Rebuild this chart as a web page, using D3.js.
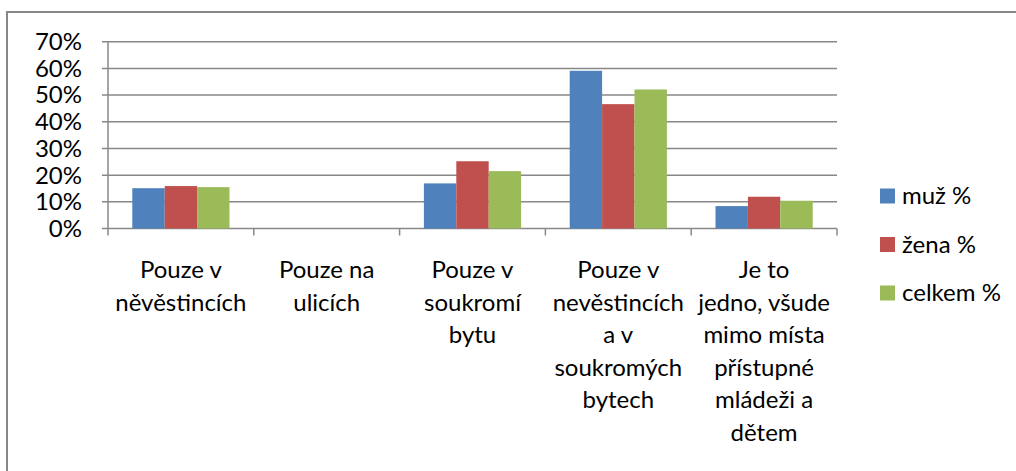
<!DOCTYPE html>
<html><head><meta charset="utf-8">
<script src="https://cdn.jsdelivr.net/npm/d3@7"></script>
<style>
html,body{margin:0;padding:0;background:#fff;}
svg text{font-family:Lato, "Open Sans", sans-serif;fill:#000;}
</style></head>
<body>
<svg id="chart" width="1016" height="471"></svg>
<script>
const categories = [
  ["Pouze v","něvěstincích"],
  ["Pouze na","ulicích"],
  ["Pouze v","soukromí","bytu"],
  ["Pouze v","nevěstincích","a v","soukromých","bytech"],
  ["Je to","jedno, všude","mimo místa","přístupné","mládeži a","dětem"]
];
const seriesNames = ["muž %","žena %","celkem %"];
const muz    = [15.1, 0, 16.9, 59.1, 8.4];
const zena   = [15.9, 0, 25.2, 46.6, 11.9];
const celkem = [15.5, 0, 21.5, 52.1, 10.4];
const yTicks = [0,10,20,30,40,50,60,70];
const colors = ["#4F81BD","#C0504D","#9BBB59"];

const series = [muz, zena, celkem];
const svg = d3.select("#chart");
const fs = 24;

// outer border
svg.append("rect").attr("x",7).attr("y",12).attr("width",1030).attr("height",480)
  .attr("fill","none").attr("stroke","#888").attr("stroke-width",2);

const pLeft=108, pRight=837, pTop=41.7, pBottom=228.5;
const x = d3.scaleBand().domain(d3.range(categories.length)).range([pLeft,pRight]).paddingInner(0).paddingOuter(0);
const y = d3.scaleLinear().domain([0,70]).range([pBottom,pTop]);

// gridlines
svg.append("g").selectAll("line").data(yTicks).join("line")
  .attr("x1",pLeft-6).attr("x2",pRight).attr("y1",d=>y(d)).attr("y2",d=>y(d))
  .attr("stroke","#888").attr("stroke-width",1.5);

// y axis line
svg.append("line").attr("x1",pLeft).attr("x2",pLeft).attr("y1",pTop).attr("y2",pBottom)
  .attr("stroke","#888").attr("stroke-width",1.5);

// y labels
svg.append("g").selectAll("text").data(yTicks).join("text")
  .attr("x",82).attr("y",d=>y(d)).attr("dy","0.35em").attr("text-anchor","end")
  .attr("font-size",fs).text(d=>d+"%");

// x ticks
const bounds = d3.range(categories.length+1).map(i=> i<categories.length ? x(i) : pRight);
svg.append("g").selectAll("line").data(bounds).join("line")
  .attr("x1",d=>d).attr("x2",d=>d).attr("y1",pBottom).attr("y2",pBottom+7)
  .attr("stroke","#888").attr("stroke-width",1.5);

// bars
const bw = x.bandwidth()/4.5;
const inner = d3.scaleBand().domain(d3.range(3)).range([0,bw*3]);
const g = svg.append("g");
series.forEach((s,si)=>{
  g.selectAll(null).data(s).join("rect")
    .attr("x",(d,i)=>x(i)+bw*0.75+inner(si))
    .attr("width",inner.bandwidth())
    .attr("y",d=>y(d)).attr("height",d=>pBottom-y(d))
    .attr("fill",colors[si]);
});

// category labels
categories.forEach((lines,i)=>{
  const cx = x(i)+x.bandwidth()/2;
  const t = svg.append("text").attr("text-anchor","middle").attr("font-size",fs)
    .attr("x",cx).attr("y",278);
  lines.forEach((l,j)=>{
    t.append("tspan").attr("x",cx).attr("y",278+j*32.6).text(l);
  });
});

// legend
const lg = svg.append("g");
seriesNames.forEach((n,i)=>{
  const cy = 196+i*48.5;
  lg.append("rect").attr("x",880).attr("y",cy-7.5).attr("width",15).attr("height",15).attr("fill",colors[i]);
  lg.append("text").attr("x",902).attr("y",cy).attr("dy","0.35em").attr("font-size",fs).text(n);
});
</script>
</body></html>
